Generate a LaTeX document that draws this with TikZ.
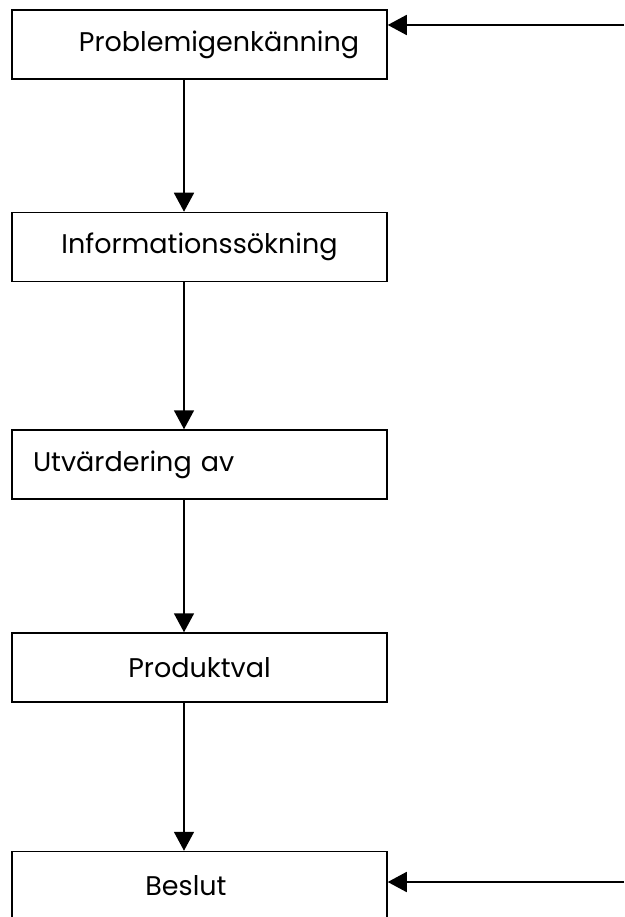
\documentclass[tikz,border=0pt]{standalone}
\usepackage{fontspec}
\setmainfont{Poppins}
\usetikzlibrary{arrows.meta}
\tikzset{
  stage/.style={draw,line width=1.5pt,minimum width=375pt,minimum height=69pt,inner sep=0pt,font=\fontsize{27}{31}\selectfont},
  flow/.style={line width=1.7pt,-{Triangle[length=19pt,width=20pt]}}
}
\begin{document}
\begin{tikzpicture}[x=1pt,y=-1pt]
\clip (0,0) rectangle (624,917);

\node[stage] (prob) at (199.5,44.5) {\hspace*{39pt}Problemigenkänning};
\node[stage] (info) at (199.5,247) {Informationssökning};
\node[stage,text width=333pt,align=left] (utv) at (199.5,464.5) {Utvärdering av};
\node[stage] (prod) at (199.5,667.5) {Produktval};
\node[stage] (besl) at (199.5,886) {Beslut\hspace*{27pt}};

% pilarna nedåt
\foreach \a/\b in {prob/info,info/utv,utv/prod,prod/besl}
    \draw[flow] ([xshift=-15.5pt]\a.south) -- ([xshift=-15.5pt]\b.north);

% återkoppling från höger
\coordinate (in1) at (624,25);
\coordinate (in2) at (624,882);
\draw[flow] (in1) -- (in1 -| prob.east);
\draw[flow] (in2) -- (in2 -| besl.east);
\end{tikzpicture}
\end{document}
